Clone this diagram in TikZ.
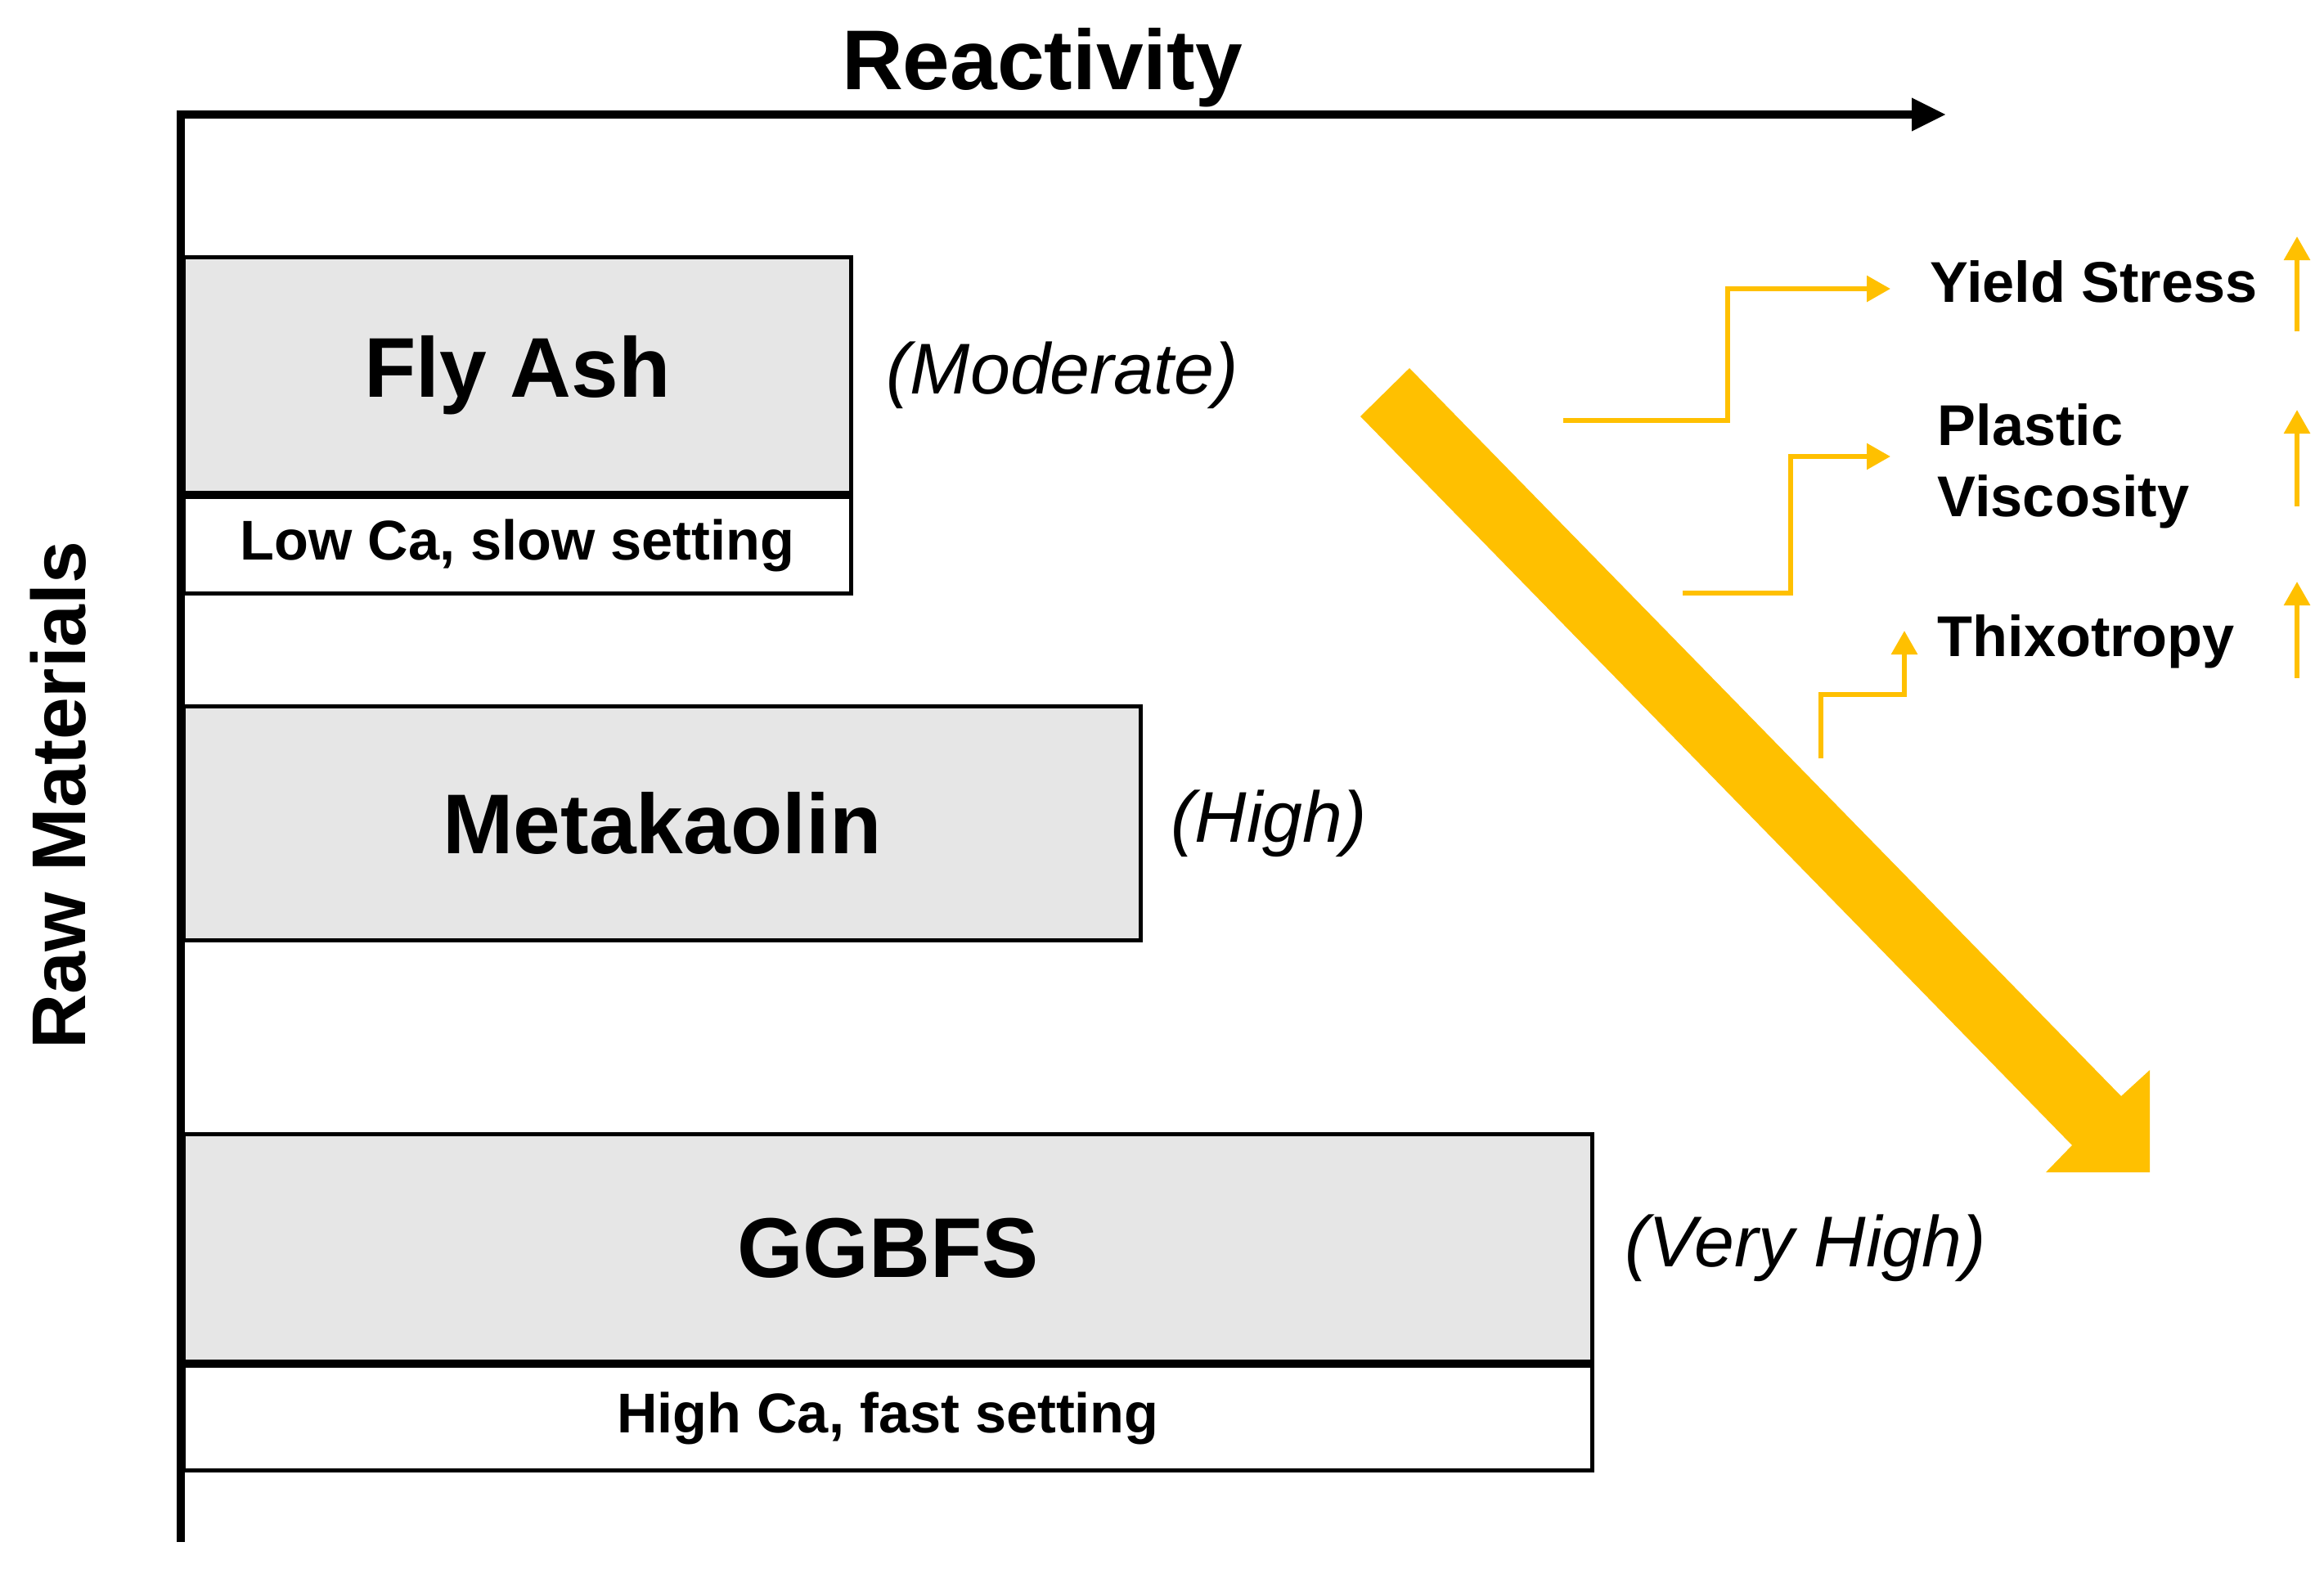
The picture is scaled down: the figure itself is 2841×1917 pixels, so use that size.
\documentclass[tikz,border=0pt]{standalone}
\usepackage{fontspec}
\setmainfont{Liberation Sans}
\usetikzlibrary{arrows.meta,positioning}
\definecolor{gold}{RGB}{255,192,0}
\definecolor{boxgray}{RGB}{230,230,230}

\begin{document}
\begin{tikzpicture}[x=0.1mm, y=-0.1mm,
  matbox/.style={draw, line width=0.5mm, fill=boxgray, anchor=north west, inner sep=0pt, font=\bfseries\fontsize{29.5}{34}\selectfont},
  notebox/.style={draw, line width=0.5mm, fill=white, anchor=north west, inner sep=0pt, font=\bfseries\fontsize{19.5}{23}\selectfont},
  level/.style={inner sep=0pt, font=\itshape\fontsize{25}{30}\selectfont},
  prop/.style={inner sep=0pt, align=left, font=\bfseries\fontsize{20}{24.75}\selectfont},
  riser/.style={gold, line width=0.6mm, -{Triangle[length=2.9mm,width=3.1mm]}}]
  \useasboundingbox (0,0) rectangle (2841,1917);

  % Axes
  \coordinate (origin) at (221,140);
  \coordinate (xend) at (2379,140);
  \coordinate (yend) at (221,1885);
  \draw[line width=1mm, -{Triangle[length=4.2mm,width=3.8mm]}] (yend) -- (origin) -- (xend);
  \node[anchor=base, font=\bfseries\fontsize{29.5}{34}\selectfont] (xlabel) at (1274,109) {Reactivity};
  \node[anchor=base, rotate=90, font=\bfseries\fontsize{26.5}{32}\selectfont] (ylabel) at (105,972) {Raw Materials};

  % Materials
  \node[matbox, minimum width=81.6mm, minimum height=28.8mm] (fly) at (222,312) {Fly Ash};
  \node[notebox, minimum width=81.6mm, minimum height=11.8mm] (flynote) at (fly.south west) {Low Ca, slow setting};
  \node[matbox, minimum width=117mm, minimum height=28.6mm] (meta) at (222,861) {Metakaolin};
  \node[matbox, minimum width=172.2mm, minimum height=27.8mm] (slag) at (222,1384) {GGBFS};
  \node[notebox, minimum width=172.2mm, minimum height=12.8mm] (slagnote) at (slag.south west) {High Ca, fast setting};

  \node[level, right=4mm of fly.east] (flylevel) {(Moderate)};
  \node[level, right=3.4mm of meta.east] (metalevel) {(High)};
  \node[level, right=3.7mm of slag.east] (slaglevel) {(Very High)};

  % Trend arrow
  \fill[gold] (1723,450) -- (2593,1340) -- (2628,1308) -- (2628,1433) -- (2501,1433) -- (2533,1400) -- (1663,509) -- cycle;

  % Rheology
  \node[prop, anchor=base west] (yield) at (2359,369) {Yield Stress};
  \node[prop, anchor=north west] (visc) at (2368,493) {Plastic\\Viscosity};
  \node[prop, anchor=base west] (thixo) at (2368,802) {Thixotropy};

  \coordinate (yield-in) at (1911,514);
  \coordinate (yield-out) at (2311,353);
  \coordinate (visc-in) at (2057,725);
  \coordinate (visc-out) at (2311,558);
  \coordinate (thixo-in) at (2226,927);
  \coordinate (thixo-out) at (2328,771);
  \draw[riser] (yield-in) -- ++(201,0) |- (yield-out);
  \draw[riser] (visc-in) -- ++(132,0) |- (visc-out);
  \draw[riser] (thixo-in) |- ++(102,-78) -- (thixo-out);

  \coordinate (yield-up) at (2808,405);
  \coordinate (visc-up) at (2808,619);
  \coordinate (thixo-up) at (2808,829);
  \draw[riser] (yield-up) -- ++(0,-116);
  \draw[riser] (visc-up) -- ++(0,-118);
  \draw[riser] (thixo-up) -- ++(0,-118);
\end{tikzpicture}
\end{document}
